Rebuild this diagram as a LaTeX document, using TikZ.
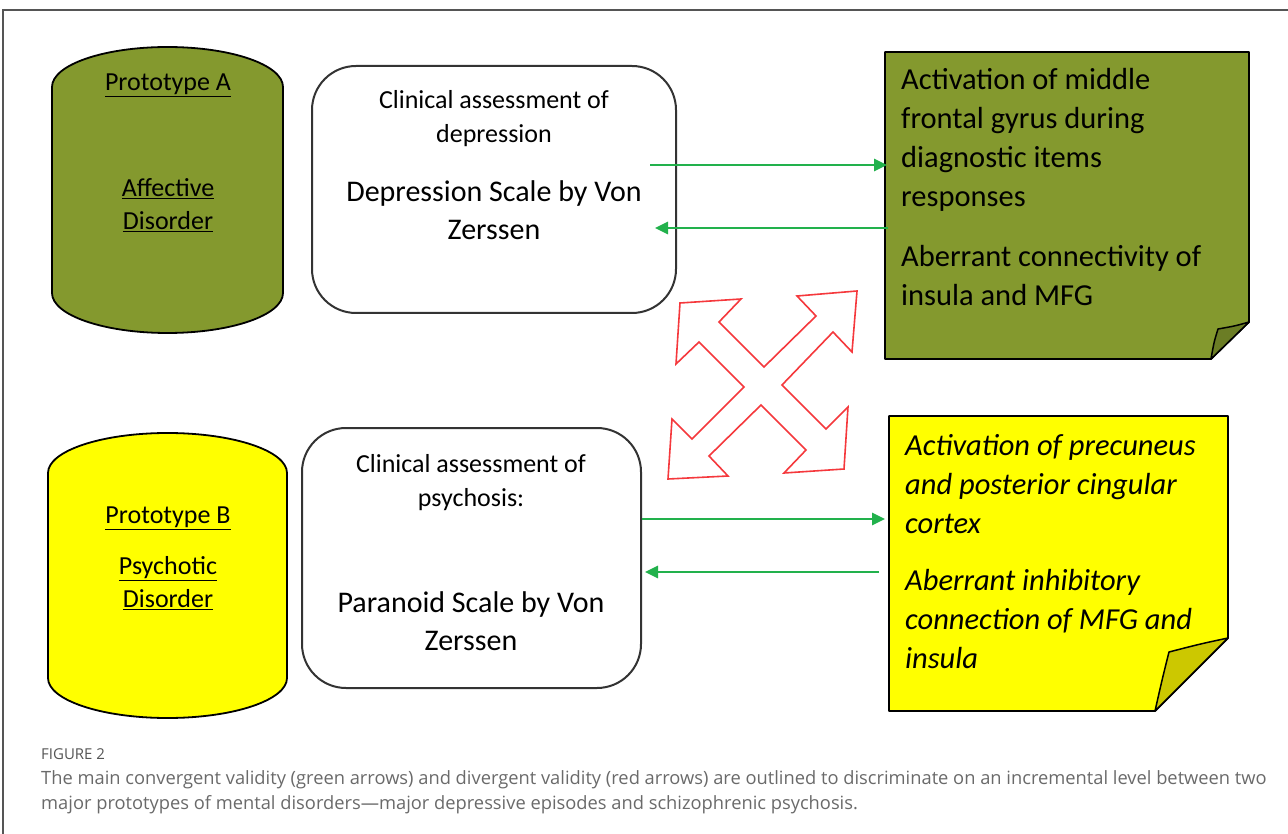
\documentclass[tikz,border=0pt]{standalone}
\usepackage{fontspec}
\setmainfont{Carlito}
\newfontfamily\capfont{Open Sans}
\usetikzlibrary{arrows.meta}
\definecolor{olivefill}{HTML}{84992E}
\definecolor{olivefold}{HTML}{6B7D25}
\definecolor{yelfill}{HTML}{FFFF00}
\definecolor{yelfold}{HTML}{CCC800}
\definecolor{garrow}{HTML}{22B14C}
\definecolor{rarrow}{HTML}{F5383C}
\definecolor{framegray}{HTML}{555555}
\definecolor{capgray}{HTML}{6A6A6A}
\tikzset{
  shapeline/.style={draw=black, line width=1.8pt, line join=round},
  boxline/.style={draw=black!80, line width=2pt, rounded corners=44pt, fill=white},
  garr/.style={draw=garrow, line width=2.6pt, -{Triangle[length=13pt,width=12pt]}},
  protolbl/.style={font=\fontsize{26}{34}\selectfont, align=center, inner sep=0pt},
  smalllbl/.style={font=\fontsize{26}{34}\selectfont, align=center, inner sep=0pt},
  biglbl/.style={font=\fontsize{30}{38}\selectfont, align=center, inner sep=0pt},
  notelbl/.style={font=\fontsize{30.5}{39}\selectfont, align=left, anchor=west, inner sep=0pt},
  inotelbl/.style={font=\fontsize{30.5}{39}\selectfont\itshape, align=left, anchor=west, inner sep=0pt},
  caplbl/.style={anchor=west, inner sep=0pt, font=\capfont\fontsize{18.3}{25}\selectfont, text=capgray},
}
\begin{document}
\begin{tikzpicture}[x=1pt,y=-1pt]
\useasboundingbox (0,0) rectangle (1288,834);
\fill[white] (0,0) rectangle (1288,834);
% frame
\coordinate (frTR) at (1288,10);
\coordinate (frTL) at (3,10);
\coordinate (frBL) at (3,834);
\draw[framegray, line width=1.3pt] (frTR) -- (frTL) -- (frBL);

% cylinder A
\draw[shapeline, fill=olivefill] (52,293) -- (52,87) .. controls (52,64.9) and (103.7,47) .. (167.5,47)
  .. controls (231.3,47) and (283,64.9) .. (283,87) -- (283,293)
  .. controls (283,315.1) and (231.3,333) .. (167.5,333)
  .. controls (103.7,333) and (52,315.1) .. (52,293) -- cycle;
\node[protolbl] (protoA) at (168,85) {\underline{Prototype A}};
\node[protolbl] (affA) at (168,205) {\underline{Affective}\\[-0.5pt]\underline{Disorder}};

% cylinder B
\draw[shapeline, fill=yelfill] (48,678) -- (48,473) .. controls (48,450.9) and (101.5,433) .. (167.5,433)
  .. controls (233.5,433) and (287,450.9) .. (287,473) -- (287,678)
  .. controls (287,700.1) and (233.5,718) .. (167.5,718)
  .. controls (101.5,718) and (48,700.1) .. (48,678) -- cycle;
\node[protolbl] (protoB) at (168,518) {\underline{Prototype B}};
\node[protolbl] (psyB) at (168,583) {\underline{Psychotic}\\[-0.5pt]\underline{Disorder}};

% assessment boxes
\node[boxline, minimum width=364pt, minimum height=247pt] (boxA) at (494,189.5) {};
\node[smalllbl] (clinA) at (494,119) {Clinical assessment of\\depression};
\node[biglbl] (scaleA) at (494,210) {Depression Scale by Von\\Zerssen};

\node[boxline, minimum width=339pt, minimum height=260pt] (boxB) at (471.5,558) {};
\node[smalllbl] (clinB) at (471,483) {Clinical assessment of\\psychosis:};
\node[biglbl] (scaleB) at (471,621) {Paranoid Scale by Von\\Zerssen};

% green note
\draw[shapeline, fill=olivefill] (885,52) -- (1249,52) -- (1249,322) -- (1211,359) -- (885,359) -- cycle;
\draw[shapeline, fill=olivefold, line width=1.5pt] (1249,322) .. controls (1235,326) .. (1218,329) .. controls (1214,342) .. (1211,359) -- cycle;
\node[notelbl] (noteA1) at (901,140) {Activation of middle\\frontal gyrus during\\diagnostic items\\responses};
\node[notelbl] (noteA2) at (901,276) {Aberrant connectivity of\\insula and MFG};

% yellow note
\draw[shapeline, fill=yelfill] (889,416) -- (1228,416) -- (1228,638) -- (1155,711) -- (889,711) -- cycle;
\draw[shapeline, fill=yelfold, line width=1.5pt] (1228,638) .. controls (1200,644) .. (1169,652) .. controls (1162,680) .. (1155,711) -- cycle;
\node[inotelbl] (noteB1) at (905,484) {Activation of precuneus\\and posterior cingular\\cortex};
\node[inotelbl] (noteB2) at (905,619) {Aberrant inhibitory\\connection of MFG and\\insula};

% green arrows
\coordinate (gA1s) at (650,165);
\coordinate (gA1e) at (887,165);
\coordinate (gA2s) at (888,228);
\coordinate (gA2e) at (655,228);
\coordinate (gB1s) at (642,519);
\coordinate (gB1e) at (885,519);
\coordinate (gB2s) at (879,572);
\coordinate (gB2e) at (645,572);
\draw[garr] (gA1s) -- (gA1e);
\draw[garr] (gA2s) -- (gA2e);
\draw[garr] (gB1s) -- (gB1e);
\draw[garr] (gB2s) -- (gB2e);

% red four-headed arrow
\draw[rarrow, line width=1.6pt, line join=miter]
  (680,303) -- (741,299) -- (719,322) -- (764,367) -- (816,316) -- (797,296) -- (857,291)
  -- (852,352) -- (833,332) -- (782,385) -- (826,429) -- (848,407) -- (844,469)
  -- (784,473) -- (806,450) -- (761,405) -- (709,456) -- (728,476) -- (668,479)
  -- (672,419) -- (692,439) -- (744,387) -- (699,342) -- (676,364) -- cycle;

% caption
\node[anchor=west, inner sep=0pt, font=\capfont\fontsize{15}{16}\selectfont, text=framegray] (figlbl) at (41,754) {FIGURE 2};
\node[caplbl] (cap1) at (41,780) {The main convergent validity (green arrows) and divergent validity (red arrows) are outlined to discriminate on an incremental level between two};
\node[caplbl] (cap2) at (41,805) {major prototypes of mental disorders—major depressive episodes and schizophrenic psychosis.};
\end{tikzpicture}
\end{document}
